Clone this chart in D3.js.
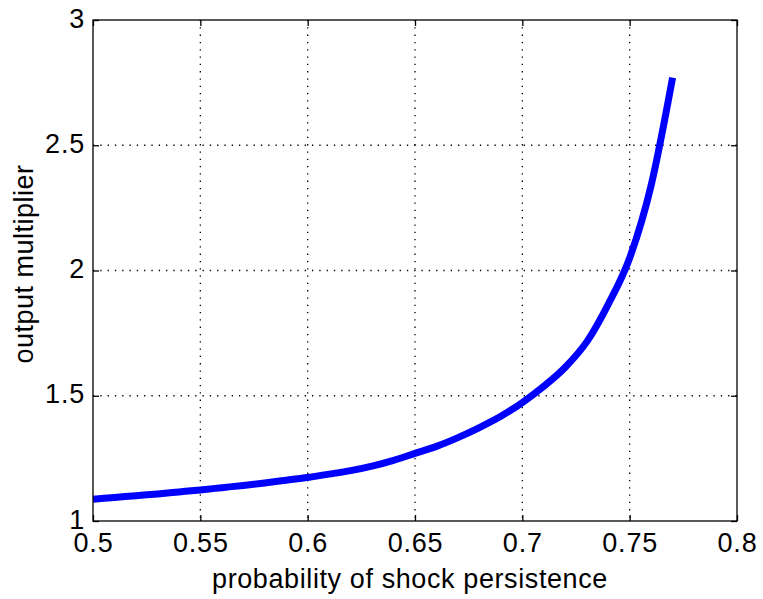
<!DOCTYPE html>
<html>
<head>
<meta charset="utf-8">
<script src="https://cdn.jsdelivr.net/npm/d3@7"></script>
<style>
    body { margin: 0; background: #fff; }
    text { font-family: "Liberation Sans", Arial, sans-serif; fill: #000; }
</style>
</head>
<body>
<div id="chart"></div>
<script>
// probability of shock persistence vs output multiplier
const persistence = [0.50, 0.51, 0.52, 0.53, 0.54, 0.55, 0.56, 0.57, 0.58, 0.59,
    0.60, 0.61, 0.62, 0.63, 0.64, 0.65, 0.66, 0.67, 0.68, 0.69,
    0.70, 0.71, 0.72, 0.73, 0.74, 0.75, 0.76, 0.77];
const multiplier = [1.087, 1.094, 1.101, 1.108, 1.116, 1.124, 1.133, 1.142, 1.152, 1.163,
    1.174, 1.187, 1.201, 1.219, 1.242, 1.270, 1.298, 1.333, 1.373, 1.418,
    1.473, 1.538, 1.614, 1.715, 1.865, 2.05, 2.34, 2.77];

const xTicks = [0.5, 0.55, 0.6, 0.65, 0.7, 0.75, 0.8];
const yTicks = [1, 1.5, 2, 2.5, 3];

const dims = {width: 763, height: 599};
const plot = {left: 93, top: 20, right: 737, bottom: 521};

const svg = d3.select("#chart")
    .append("svg")
    .attr("width", dims.width)
    .attr("height", dims.height);

const xScale = d3.scaleLinear().domain([0.5, 0.8]).range([plot.left, plot.right]);
const yScale = d3.scaleLinear().domain([1, 3]).range([plot.bottom, plot.top]);

// grid
svg.append("g")
    .selectAll("line")
    .data(xTicks.slice(1, -1))
    .join("line")
    .attr("x1", d => xScale(d)).attr("x2", d => xScale(d))
    .attr("y1", plot.top).attr("y2", plot.bottom)
    .attr("stroke", "#000")
    .attr("stroke-width", 1.3)
    .attr("stroke-dasharray", "1.3,6");

svg.append("g")
    .selectAll("line")
    .data(yTicks.slice(1, -1))
    .join("line")
    .attr("x1", plot.left).attr("x2", plot.right)
    .attr("y1", d => yScale(d)).attr("y2", d => yScale(d))
    .attr("stroke", "#000")
    .attr("stroke-width", 1.3)
    .attr("stroke-dasharray", "1.3,6");

// curve
let line = d3.line()
    .x((d, i) => xScale(persistence[i]))
    .y(d => yScale(d))
    .curve(d3.curveMonotoneX);

svg.append("path")
    .datum(multiplier)
    .attr("d", line)
    .attr("fill", "none")
    .attr("stroke", "#0000ff")
    .attr("stroke-width", 7);

// axes with inward ticks on all sides
const tick = 6;
svg.append("g")
    .attr("transform", `translate(0,${plot.bottom})`)
    .call(d3.axisBottom(xScale).tickValues(xTicks).tickSizeInner(-tick).tickSizeOuter(0).tickFormat(d3.format("")))
    .call(g => g.select(".domain").remove())
    .call(g => g.selectAll("text").attr("dy", 0).attr("y", 31)
        .style("font-size", "27px").style("letter-spacing", "0.8px"));

svg.append("g")
    .attr("transform", `translate(0,${plot.top})`)
    .call(d3.axisTop(xScale).tickValues(xTicks).tickSizeInner(-tick).tickSizeOuter(0).tickFormat(""))
    .call(g => g.select(".domain").remove());

svg.append("g")
    .attr("transform", `translate(${plot.left},0)`)
    .call(d3.axisLeft(yScale).tickValues(yTicks).tickSizeInner(-tick).tickSizeOuter(0).tickFormat(d3.format("")))
    .call(g => g.select(".domain").remove())
    .call(g => g.selectAll("text").attr("x", -8).attr("dy", "0.26em")
        .style("font-size", "27px").style("letter-spacing", "0.8px"));

svg.append("g")
    .attr("transform", `translate(${plot.right},0)`)
    .call(d3.axisRight(yScale).tickValues(yTicks).tickSizeInner(-tick).tickSizeOuter(0).tickFormat(""))
    .call(g => g.select(".domain").remove());

svg.selectAll(".tick line").attr("stroke", "#000").attr("stroke-width", 1.3);

// frame
svg.append("rect")
    .attr("x", plot.left).attr("y", plot.top)
    .attr("width", plot.right - plot.left)
    .attr("height", plot.bottom - plot.top)
    .attr("fill", "none")
    .attr("stroke", "#000")
    .attr("stroke-width", 1.3);

// labels
svg.append("text")
    .attr("x", 410).attr("y", 588)
    .attr("text-anchor", "middle")
    .style("font-size", "27px")
    .style("letter-spacing", "0.6px")
    .text("probability of shock persistence");

svg.append("text")
    .attr("transform", "translate(33,264) rotate(-90)")
    .attr("text-anchor", "middle")
    .style("font-size", "27px")
    .style("letter-spacing", "0.5px")
    .text("output multiplier");
</script>
</body>
</html>
